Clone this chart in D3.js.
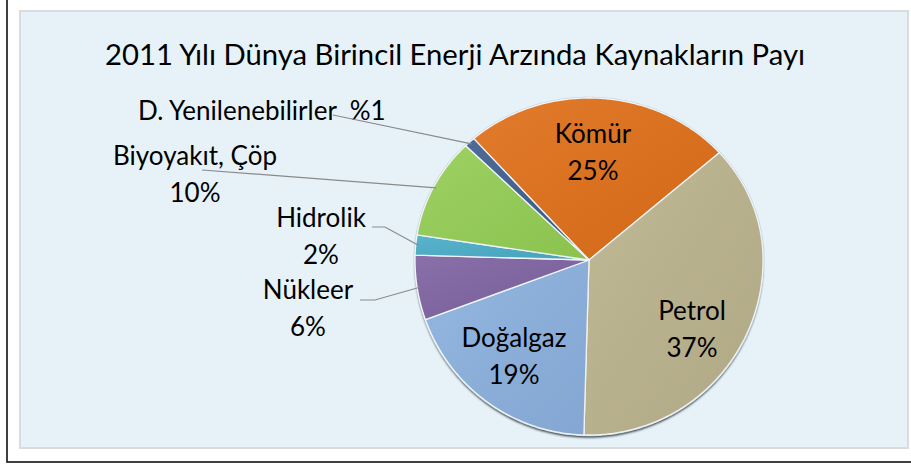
<!DOCTYPE html>
<html>
<head>
<meta charset="utf-8">
<script src="https://cdn.jsdelivr.net/npm/d3@7"></script>
<style>
  body { margin: 0; background: #ffffff; }
  svg { display: block; }
</style>
</head>
<body>
<svg id="svg"></svg>
<script>
////////////////////////////////////////////////////////////////////////
// Data

let title = "2011 Yılı Dünya Birincil Enerji Arzında Kaynakların Payı";
let sources = ["Kömür", "Petrol", "Doğalgaz", "Nükleer", "Hidrolik", "Biyoyakıt, Çöp", "D. Yenilenebilirler"];
let shares = [25, 37, 19, 6, 2, 10, 1];
let shareLabels = ["25%", "37%", "19%", "6%", "2%", "10%", "%1"];

// slice colours, same order as sources
let colors = ["#e0701a", "#bcb48e", "#8cb2e0", "#7f64a2", "#4aaec8", "#95cf55", "#3f5f8f"];

////////////////////////////////////////////////////////////////////////
// Layout

let width = 911, height = 464;
let svg = d3.select("#svg").attr("width", width).attr("height", height);

// outer frame and chart panel
svg.append("rect")
   .attr("x", 7).attr("y", -4).attr("width", 912).attr("height", 466)
   .attr("fill", "#ffffff").attr("stroke", "#111").attr("stroke-width", 1.6);
svg.append("rect")
   .attr("x", 20).attr("y", 11).attr("width", 888).attr("height", 437)
   .attr("fill", "#e7f2f8").attr("stroke", "#d9dcdd").attr("stroke-width", 2);

svg.append("text")
   .attr("x", 455).attr("y", 65)
   .attr("text-anchor", "middle")
   .attr("font-family", "Lato, 'Liberation Sans', sans-serif")
   .attr("font-size", 29)
   .attr("textLength", 700).attr("lengthAdjust", "spacingAndGlyphs")
   .attr("fill", "#000")
   .text(title);

// The pie is drawn slightly tilted: the rim is squashed more above the
// centre than below it, so y goes through a piecewise scale.
let xRim = d3.scaleLinear().domain([-1, 1]).range([415, 763]);
let yRim = d3.scaleLinear().domain([-1, 0, 1]).range([435, 260, 98]);
function rim(a, k) {
  if (k === undefined) { k = 1; }
  return [xRim(k * Math.sin(a)), yRim(k * Math.cos(a))];
}

let startAngle = -41.5 * Math.PI / 180;
let pie = d3.pie().sort(null)
            .startAngle(startAngle).endAngle(startAngle + 2 * Math.PI);
let arcs = pie(shares);

let line = d3.line();
function slicePath(d) {
  let pts = [rim(0, 0)];
  let n = Math.max(2, Math.ceil((d.endAngle - d.startAngle) / 0.01));
  for (let i = 0; i <= n; ++i) {
    pts.push(rim(d.startAngle + (d.endAngle - d.startAngle) * i / n));
  }
  return line(pts) + "Z";
}

// soft shadow under the rim
let defs = svg.append("defs");
defs.append("filter").attr("id", "blur")
    .append("feGaussianBlur").attr("stdDeviation", 1.2);

let full = { startAngle: 0, endAngle: 2 * Math.PI };
svg.append("path")
   .attr("d", slicePath(full))
   .attr("transform", "translate(0,2.5)")
   .attr("fill", "#2f3a44")
   .attr("filter", "url(#blur)");
svg.append("path")
   .attr("d", slicePath(full))
   .attr("fill", "none")
   .attr("stroke", "#c9d3d8")
   .attr("stroke-width", 2.5);

// subtle shading on every slice
let grad = defs.append("linearGradient").attr("id", "shade")
               .attr("x1", 0).attr("y1", 0).attr("x2", 1).attr("y2", 1);
grad.append("stop").attr("offset", "0%").attr("stop-color", "#fff").attr("stop-opacity", 0.08);
grad.append("stop").attr("offset", "100%").attr("stop-color", "#000").attr("stop-opacity", 0.06);

let slices = svg.append("g").selectAll("g")
                .data(arcs).enter().append("g");
slices.append("path")
      .attr("d", slicePath)
      .attr("fill", function(d, i) { return colors[i]; })
      .attr("stroke", "#f4f8fa").attr("stroke-width", 1.3)
      .attr("stroke-linejoin", "round");
slices.append("path")
      .attr("d", slicePath)
      .attr("fill", "url(#shade)");

////////////////////////////////////////////////////////////////////////
// Labels: three inside the pie, four outside with leader lines

let font = "Lato, 'Liberation Sans', sans-serif";
let fontSize = 26;

// x, y of the first baseline; second line sits one step lower
let labelPlace = [
  { x: 593, y: 143 },
  { x: 692, y: 320 },
  { x: 514, y: 347 },
  { x: 308, y: 299 },
  { x: 321, y: 227 },
  { x: 195, y: 165 },
  { x: 138, y: 120, single: true }
];
// where each leader line leaves its text (null for inside labels)
let leaderStart = [null, null, null,
                   [[360, 300], [375, 300]],
                   [[372, 227], [385, 227]],
                   [[202, 170]],
                   [[333, 115]]];

let labels = svg.append("g")
                .attr("font-family", font)
                .attr("font-size", fontSize)
                .attr("fill", "#000");

arcs.forEach(function(d, i) {
  let p = labelPlace[i];
  if (p.single) {
    labels.append("text")
          .attr("x", p.x).attr("y", p.y)
          .attr("xml:space", "preserve")
          .text(sources[i] + "  " + shareLabels[i]);
  } else {
    let t = labels.append("text").attr("text-anchor", "middle");
    t.append("tspan").attr("x", p.x).attr("y", p.y).text(sources[i]);
    t.append("tspan").attr("x", p.x).attr("y", p.y + 37).text(shareLabels[i]);
  }
  if (leaderStart[i] !== null) {
    let mid = (d.startAngle + d.endAngle) / 2;
    let pts = leaderStart[i].concat([rim(mid, 0.985)]);
    svg.append("path")
       .attr("d", line(pts))
       .attr("fill", "none")
       .attr("stroke", "#8a8a8a").attr("stroke-width", 1.2);
  }
});
</script>
</body>
</html>
